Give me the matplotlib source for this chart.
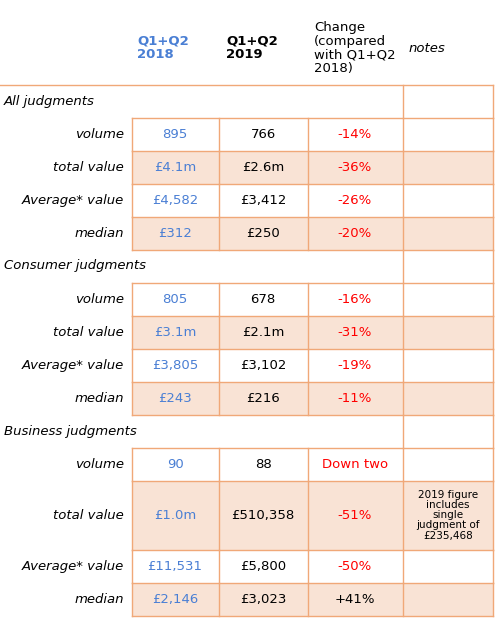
import matplotlib.pyplot as plt
from matplotlib.patches import Rectangle

sections = ["All judgments", "Consumer judgments", "Business judgments"]
metrics = ["volume", "total value", "Average* value", "median"]
q2018 = [["895", "£4.1m", "£4,582", "£312"],
         ["805", "£3.1m", "£3,805", "£243"],
         ["90", "£1.0m", "£11,531", "£2,146"]]
q2019 = [["766", "£2.6m", "£3,412", "£250"],
         ["678", "£2.1m", "£3,102", "£216"],
         ["88", "£510,358", "£5,800", "£3,023"]]
change = [["-14%", "-36%", "-26%", "-20%"],
          ["-16%", "-31%", "-19%", "-11%"],
          ["Down two", "-51%", "-50%", "+41%"]]
notes = {(2, 1): "2019 figure\nincludes\nsingle\njudgment of\n£235,468"}

BLUE = "#4a7fd4"
RED = "#ff0000"
EDGE = "#f0a878"
FILL = "#f9e3d5"
cols = [0, 132, 219, 308, 403, 493]

fig = plt.figure(figsize=(4.97, 6.29), dpi=100)
ax = fig.add_axes([0, 0, 1, 1])
ax.set_xlim(0, 497)
ax.set_ylim(629, 0)
ax.axis("off")
fs = 9.5

# header
ax.text(137, 48, "Q1+Q2\n2018", color=BLUE, fontsize=fs, fontweight="bold", va="center", linespacing=1.0)
ax.text(226, 48, "Q1+Q2\n2019", color="black", fontsize=fs, fontweight="bold", va="center", linespacing=1.0)
ax.text(314, 48, "Change\n(compared\nwith Q1+Q2\n2018)", fontsize=fs, va="center", linespacing=1.05)
ax.text(409, 48, "notes", fontsize=fs, style="italic", va="center")

def line(x0, x1, y0, y1):
    ax.plot([x0, x1], [y0, y1], color=EDGE, lw=1)

y = 85
line(0, 493, y, y)
for s, sec in enumerate(sections):
    ax.text(4, y + 16, sec, fontsize=fs, style="italic", va="center")
    line(403, 403, y, y + 33)
    line(493, 493, y, y + 33)
    y += 33
    line(132, 493, y, y)
    for m, met in enumerate(metrics):
        h = 69 if (s, m) == (2, 1) else 33
        if m % 2 == 1:
            ax.add_patch(Rectangle((132, y), 361, h, color=FILL, lw=0))
        for c in cols[1:]:
            line(c, c, y, y + h)
        line(132, 493, y + h, y + h)
        cy = y + h / 2
        ax.text(124, cy, met, fontsize=fs, style="italic", ha="right", va="center")
        ax.text(175, cy, q2018[s][m], color=BLUE, fontsize=fs, ha="center", va="center")
        ax.text(263, cy, q2019[s][m], fontsize=fs, ha="center", va="center")
        ax.text(355, cy, change[s][m], color="black" if change[s][m].startswith("+") else RED,
                fontsize=fs, ha="center", va="center")
        if (s, m) in notes:
            ax.text(448, cy, notes[(s, m)], fontsize=7.5, ha="center", va="center", linespacing=1.0)
        y += h

fig.savefig("out.png", dpi=100)
